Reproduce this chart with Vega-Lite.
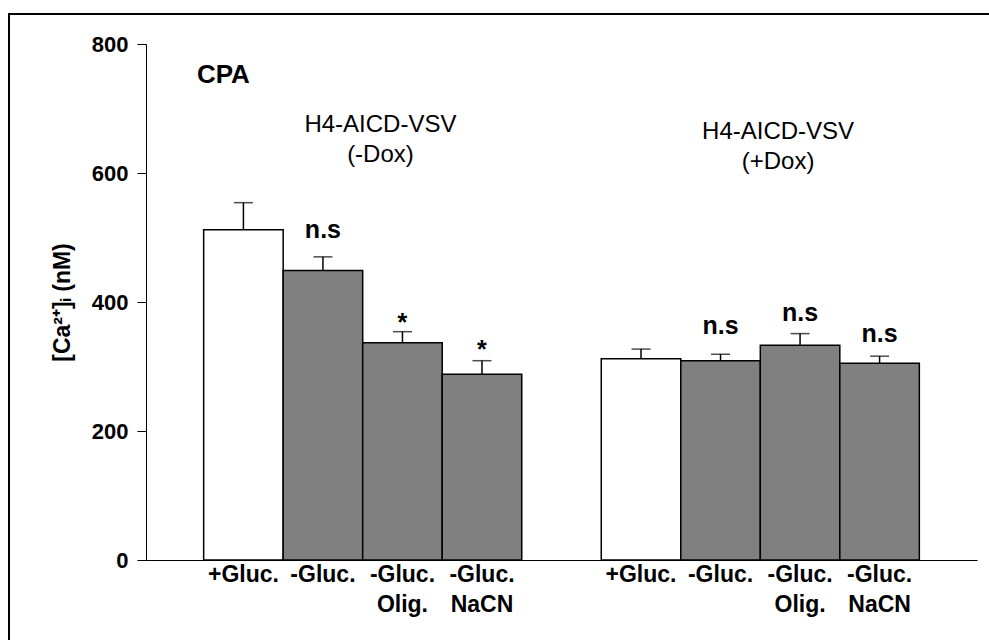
{
  "$schema": "https://vega.github.io/schema/vega-lite/v6.json",
  "width": 990,
  "height": 640,
  "autosize": "none",
  "padding": {"left": 9, "top": 14, "right": 0, "bottom": 0},
  "background": "white",
  "config": {
    "font": "Liberation Sans",
    "view": {"stroke": "black", "strokeWidth": 2},
    "axisX": {
      "domainColor": "black", "domainWidth": 1, "ticks": false, "grid": false,
      "labelFont": "Liberation Sans", "labelFontSize": 23, "labelFontWeight": "bold", "labelColor": "black",
      "labelPadding": 3, "labelLineHeight": 30, "labelAngle": 0, "offset": -94, "labelOverlap": false
    },
    "axisY": {
      "domainColor": "black", "domainWidth": 1, "tickColor": "black", "tickSize": 9, "tickWidth": 1, "grid": false,
      "labelFont": "Liberation Sans", "labelFontSize": 22, "labelFontWeight": "bold", "labelColor": "black", "labelPadding": 9,
      "titleFont": "Liberation Sans", "titleFontSize": 23, "titleFontWeight": "bold", "titleColor": "black", "titlePadding": 17,
      "offset": -137
    }
  },
  "datasets": {
    "bars": [
      {"key": "-Dox|+Gluc.", "treatment": "control", "value": 512, "hi": 554},
      {"key": "-Dox|-Gluc.", "treatment": "deprived", "value": 449, "hi": 470},
      {"key": "-Dox|-Gluc./Olig.", "treatment": "deprived", "value": 337, "hi": 354},
      {"key": "-Dox|-Gluc./NaCN", "treatment": "deprived", "value": 288, "hi": 309},
      {"key": "+Dox|+Gluc.", "treatment": "control", "value": 312, "hi": 327},
      {"key": "+Dox|-Gluc.", "treatment": "deprived", "value": 309, "hi": 319},
      {"key": "+Dox|-Gluc./Olig.", "treatment": "deprived", "value": 333, "hi": 351},
      {"key": "+Dox|-Gluc./NaCN", "treatment": "deprived", "value": 305, "hi": 316}
    ],
    "sig": [
      {"key": "-Dox|-Gluc.", "y": 500, "label": "n.s"},
      {"key": "-Dox|-Gluc./Olig.", "y": 355, "label": "*"},
      {"key": "-Dox|-Gluc./NaCN", "y": 313, "label": "*"},
      {"key": "+Dox|-Gluc.", "y": 350, "label": "n.s"},
      {"key": "+Dox|-Gluc./Olig.", "y": 370, "label": "n.s"},
      {"key": "+Dox|-Gluc./NaCN", "y": 338, "label": "n.s"}
    ],
    "groups": [
      {"key": "-Dox|-Gluc./Olig.", "y": 664, "label": "H4-AICD-VSV\n(-Dox)"},
      {"key": "+Dox|-Gluc./Olig.", "y": 652, "label": "H4-AICD-VSV\n(+Dox)"}
    ],
    "panel": [
      {"key": "-Dox|+Gluc.", "y": 740, "label": "CPA"}
    ]
  },
  "encoding": {
    "x": {
      "field": "key", "type": "nominal",
      "scale": {
        "domain": ["-Dox|+Gluc.", "-Dox|-Gluc.", "-Dox|-Gluc./Olig.", "-Dox|-Gluc./NaCN", "gap", "+Dox|+Gluc.", "+Dox|-Gluc.", "+Dox|-Gluc./Olig.", "+Dox|-Gluc./NaCN"],
        "range": [137, 968], "paddingInner": 0, "paddingOuter": 0.725
      },
      "axis": {"title": null, "labelExpr": "datum.value == 'gap' ? '' : split(split(datum.value, '|')[1], '/')"}
    }
  },
  "layer": [
    {
      "data": {"name": "bars"},
      "mark": {"type": "bar", "stroke": "black", "strokeWidth": 1.5},
      "encoding": {
        "y": {"field": "value", "type": "quantitative", "title": "[Ca²⁺]ᵢ (nM)", "scale": {"domain": [0, 800], "range": [546, 30], "nice": false}, "axis": {"values": [0, 200, 400, 600, 800]}},
        "fill": {"field": "treatment", "type": "nominal", "scale": {"domain": ["control", "deprived"], "range": ["#ffffff", "#808080"]}, "legend": null}
      }
    },
    {
      "data": {"name": "bars"},
      "mark": {"type": "rule", "color": "black", "strokeWidth": 1.5},
      "encoding": {
        "y": {"field": "value", "type": "quantitative", "title": "[Ca²⁺]ᵢ (nM)", "scale": {"domain": [0, 800], "range": [546, 30], "nice": false}, "axis": {"values": [0, 200, 400, 600, 800]}},
        "y2": {"field": "hi"}
      }
    },
    {
      "data": {"name": "bars"},
      "mark": {"type": "tick", "color": "black", "thickness": 1.5, "size": 19},
      "encoding": {
        "y": {"field": "hi", "type": "quantitative", "title": "[Ca²⁺]ᵢ (nM)", "scale": {"domain": [0, 800], "range": [546, 30], "nice": false}, "axis": {"values": [0, 200, 400, 600, 800]}}
      }
    },
    {
      "data": {"name": "sig"},
      "mark": {"type": "text", "font": "Liberation Sans", "fontSize": 25, "fontWeight": "bold", "color": "black", "align": "center", "baseline": "alphabetic"},
      "encoding": {
        "y": {"field": "y", "type": "quantitative", "title": "[Ca²⁺]ᵢ (nM)", "scale": {"domain": [0, 800], "range": [546, 30], "nice": false}, "axis": {"values": [0, 200, 400, 600, 800]}},
        "text": {"field": "label"}
      }
    },
    {
      "data": {"name": "groups"},
      "mark": {"type": "text", "font": "Liberation Sans", "fontSize": 24, "color": "black", "align": "center", "baseline": "alphabetic", "lineBreak": "\n", "lineHeight": 30, "dx": -22},
      "encoding": {
        "y": {"field": "y", "type": "quantitative", "title": "[Ca²⁺]ᵢ (nM)", "scale": {"domain": [0, 800], "range": [546, 30], "nice": false}, "axis": {"values": [0, 200, 400, 600, 800]}},
        "text": {"field": "label"}
      }
    },
    {
      "data": {"name": "panel"},
      "mark": {"type": "text", "font": "Liberation Sans", "fontSize": 26, "fontWeight": "bold", "color": "black", "align": "center", "baseline": "alphabetic", "dx": -20},
      "encoding": {
        "y": {"field": "y", "type": "quantitative", "title": "[Ca²⁺]ᵢ (nM)", "scale": {"domain": [0, 800], "range": [546, 30], "nice": false}, "axis": {"values": [0, 200, 400, 600, 800]}},
        "text": {"field": "label"}
      }
    }
  ]
}
